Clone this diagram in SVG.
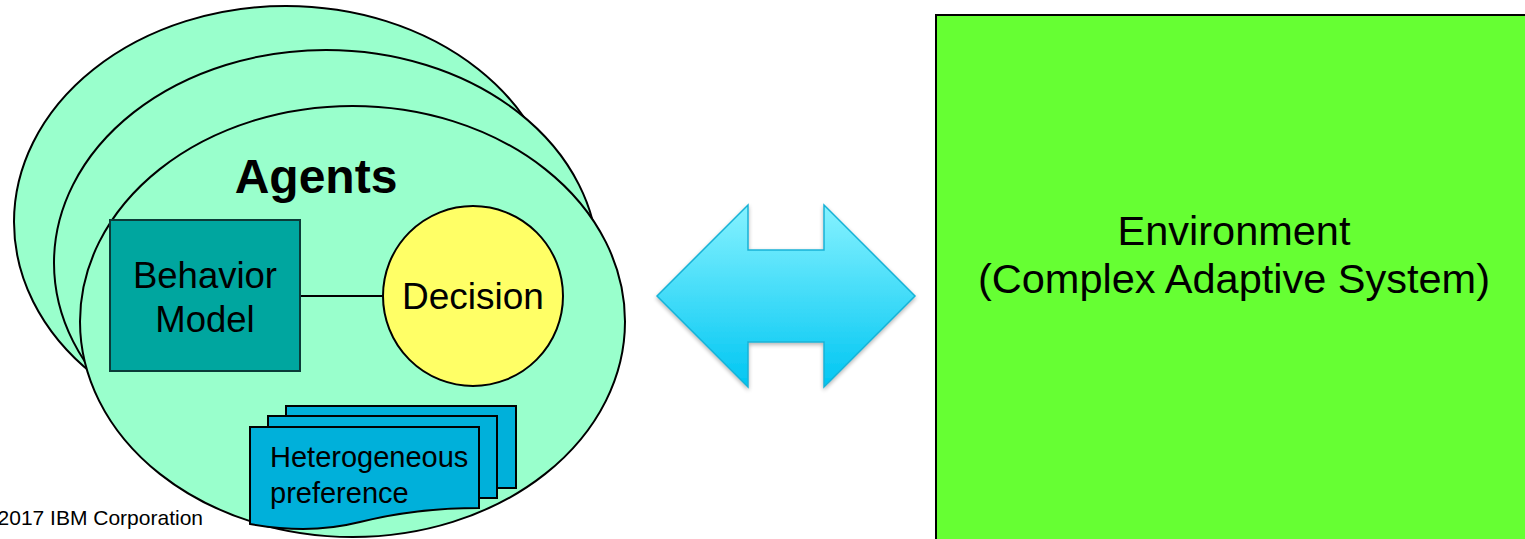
<svg xmlns="http://www.w3.org/2000/svg" width="1525" height="539" viewBox="0 0 1525 539">
  <style>
    .agent { fill: #99FFCC; stroke: #000; stroke-width: 2; }
    .txt { font-family: "Liberation Sans", Arial, sans-serif; fill: #000; }
    .doc { fill: #00B0DA; stroke: #000; stroke-width: 2; }
  </style>
  <defs>
    <linearGradient id="arrowGrad" x1="0" y1="0" x2="0" y2="1">
      <stop offset="0" stop-color="#86F2FF"/>
      <stop offset="1" stop-color="#00C6F2"/>
    </linearGradient>
    <filter id="shadow" x="-10%" y="-10%" width="120%" height="130%">
      <feGaussianBlur in="SourceAlpha" stdDeviation="2"/>
      <feOffset dx="0" dy="2" result="b"/>
      <feComponentTransfer><feFuncA type="linear" slope="0.3"/></feComponentTransfer>
      <feMerge><feMergeNode/><feMergeNode in="SourceGraphic"/></feMerge>
    </filter>
  </defs>
  <rect width="1525" height="539" fill="#fff"/>

  <g id="agents">
    <ellipse class="agent" cx="286" cy="222" rx="272" ry="216"/>
    <ellipse class="agent" cx="326" cy="263" rx="272" ry="213"/>
    <ellipse class="agent" cx="352.5" cy="321.5" rx="272.5" ry="215.5"/>
    <text class="txt" x="316" y="193" font-size="48" font-weight="bold" text-anchor="middle">Agents</text>
  </g>

  <g id="connectors">
    <line x1="300" y1="296" x2="383" y2="296" stroke="#000" stroke-width="2"/>
  </g>

  <g id="behavior-model">
    <rect x="110" y="220" width="190" height="151" fill="#00A69F" stroke="#0B3B38" stroke-width="2"/>
    <text class="txt" x="205" y="288" font-size="36.5" text-anchor="middle">Behavior</text>
    <text class="txt" x="205" y="332" font-size="36.5" text-anchor="middle">Model</text>
  </g>

  <g id="decision">
    <circle cx="473" cy="296" r="90" fill="#FFFF66" stroke="#000" stroke-width="2"/>
    <text class="txt" x="473" y="309" font-size="37" text-anchor="middle">Decision</text>
  </g>

  <g id="heterogeneous-preference">
    <rect class="doc" x="286" y="406" width="230" height="82"/>
    <rect class="doc" x="268" y="416" width="229" height="82"/>
    <path class="doc" d="M250,427 L479,427 L479,508 C440,508 400,512 360,522 C320,532 285,530 250,524 Z"/>
    <text class="txt" x="270" y="467" font-size="29">Heterogeneous</text>
    <text class="txt" x="270" y="503" font-size="29">preference</text>
  </g>

  <g id="double-arrow">
    <path d="M657,296 L748,205 L748,250 L824,250 L824,205 L915,296 L824,387 L824,342 L748,342 L748,387 Z" fill="url(#arrowGrad)" stroke="#19B2D6" stroke-width="1.5" filter="url(#shadow)"/>
  </g>

  <g id="environment">
    <rect x="936" y="15" width="600" height="540" fill="#66FF33" stroke="#000" stroke-width="2"/>
    <text class="txt" x="1234" y="245" font-size="41.5" text-anchor="middle">Environment</text>
    <text class="txt" x="1234" y="293" font-size="41.5" text-anchor="middle">(Complex Adaptive System)</text>
  </g>

  <g id="footer">
    <text class="txt" x="203" y="525" font-size="21" text-anchor="end">2017 IBM Corporation</text>
  </g>
</svg>
